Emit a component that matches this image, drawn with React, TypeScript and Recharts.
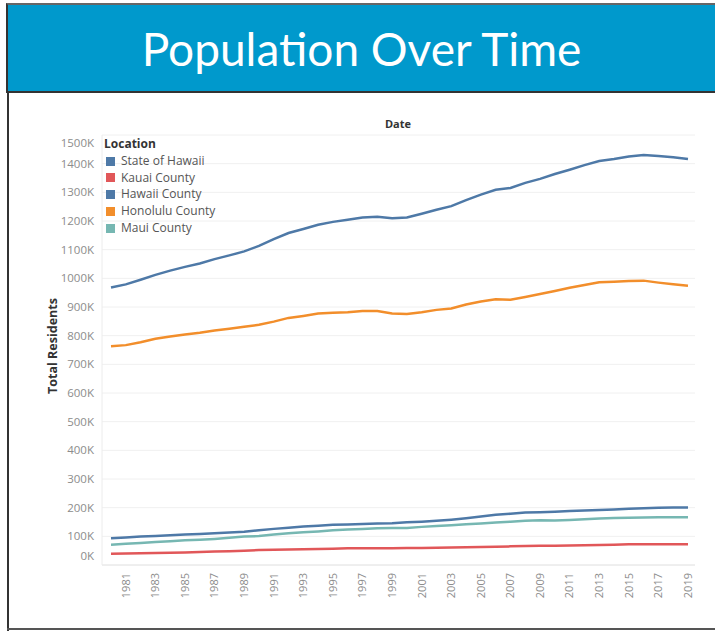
import React from "react";
import { LineChart, Line, XAxis, YAxis, CartesianGrid, Legend } from "recharts";

const years = [
  1980, 1981, 1982, 1983, 1984, 1985, 1986, 1987, 1988, 1989,
  1990, 1991, 1992, 1993, 1994, 1995, 1996, 1997, 1998, 1999,
  2000, 2001, 2002, 2003, 2004, 2005, 2006, 2007, 2008, 2009,
  2010, 2011, 2012, 2013, 2014, 2015, 2016, 2017, 2018, 2019,
];

// thousands of residents
const stateOfHawaii = [
  968, 979, 995, 1012, 1027, 1040, 1052, 1067, 1080, 1094,
  1113, 1137, 1158, 1172, 1187, 1197, 1204, 1212, 1215, 1210,
  1212, 1225, 1239, 1252, 1273, 1292, 1309, 1315, 1333, 1347,
  1364, 1379, 1395, 1409, 1416, 1425, 1430, 1427, 1422, 1416,
];
const kauaiCounty = [
  39, 40, 41, 42, 43, 44, 45, 47, 48, 50,
  52, 53, 54, 55, 56, 57, 58, 58, 58, 58,
  59, 59, 60, 61, 62, 63, 64, 65, 66, 67,
  67, 68, 69, 70, 71, 72, 72, 72, 72, 72,
];
const hawaiiCounty = [
  93, 96, 99, 101, 104, 106, 108, 111, 113, 116,
  121, 126, 130, 134, 137, 140, 141, 143, 145, 146,
  149, 151, 154, 158, 163, 169, 175, 179, 183, 184,
  186, 188, 190, 192, 194, 196, 198, 200, 201, 201,
];
const honoluluCounty = [
  763, 767, 777, 789, 797, 804, 810, 818, 824, 831,
  838, 849, 862, 869, 877, 880, 882, 886, 886, 877,
  876, 882, 890, 895, 909, 919, 927, 925, 935, 945,
  956, 967, 977, 986, 988, 991, 992, 985, 979, 974,
];
const mauiCounty = [
  71, 74, 77, 80, 83, 86, 88, 91, 95, 99,
  101, 106, 111, 114, 117, 121, 124, 126, 128, 129,
  129, 133, 136, 139, 142, 145, 148, 151, 154, 156,
  155, 157, 160, 162, 164, 165, 166, 167, 167, 167,
];

const yearTicks = [
  1981, 1983, 1985, 1987, 1989, 1991, 1993, 1995, 1997, 1999,
  2001, 2003, 2005, 2007, 2009, 2011, 2013, 2015, 2017, 2019,
];
const yTicks = [0, 100, 200, 300, 400, 500, 600, 700, 800, 900, 1000, 1100, 1200, 1300, 1400, 1500];

const series = [
  { key: "state", name: "State of Hawaii", values: stateOfHawaii, color: "#4e79a7" },
  { key: "kauai", name: "Kauai County", values: kauaiCounty, color: "#e15759" },
  { key: "hawaii", name: "Hawaii County", values: hawaiiCounty, color: "#4e79a7" },
  { key: "honolulu", name: "Honolulu County", values: honoluluCounty, color: "#f28e2b" },
  { key: "maui", name: "Maui County", values: mauiCounty, color: "#76b7b2" },
];

const data = years.map((year, i) => {
  const row: Record<string, number> = { year };
  series.forEach((s) => {
    row[s.key] = s.values[i] * 1000;
  });
  return row;
});

const FONT = "'Open Sans', sans-serif";

const XTick = ({ x, y, payload }: any) => (
  <text
    x={x}
    y={y}
    transform={`rotate(-90, ${x}, ${y})`}
    textAnchor="end"
    dy="0.35em"
    fontSize={11}
    fill="#8c8c8c"
    fontFamily={FONT}
  >
    {payload.value}
  </text>
);

const YTick = ({ x, y, payload }: any) => {
  let shift = 0;
  if (payload.value === 0) shift = -9;
  if (payload.value === 1500000) shift = 8;
  return (
    <text
      x={x}
      y={y + shift}
      textAnchor="end"
      dy="0.35em"
      fontSize={11.5}
      fill="#8c8c8c"
      fontFamily={FONT}
    >
      {`${payload.value / 1000}K`}
    </text>
  );
};

// legend keeps the series order instead of the default alphabetical sort
const LegendBox = () => (
  <div style={{ fontFamily: FONT, fontSize: 12, lineHeight: "16.8px" }}>
    <div style={{ fontWeight: 700, color: "#333" }}>Location</div>
    {series.map((s) => (
      <div key={s.key} style={{ display: "flex", alignItems: "center", color: "#555" }}>
        <span
          style={{
            display: "inline-block",
            width: 9,
            height: 9,
            background: s.color,
            marginLeft: 2,
            marginRight: 6,
          }}
        />
        {s.name}
      </div>
    ))}
  </div>
);

export default function App() {
  return (
    <div style={{ position: "absolute", left: 0, top: 0, width: 715, height: 631, background: "#fff" }}>
      <div
        style={{
          position: "absolute",
          left: 6,
          top: 3,
          width: 709,
          height: 90,
          background: "#0099cc",
          borderTop: "2px solid #666",
          borderLeft: "2px solid #333",
          borderBottom: "2px solid #333",
          color: "#fff",
          fontFamily: "Lato, sans-serif",
          fontSize: 46,
          display: "flex",
          alignItems: "center",
          justifyContent: "center",
          boxSizing: "border-box",
        }}
      >
        Population Over Time
      </div>
      <div
        style={{
          position: "absolute",
          left: 7,
          top: 93,
          width: 2,
          height: 538,
          background: "#333",
        }}
      />
      <div
        style={{
          position: "absolute",
          left: 7,
          top: 628,
          width: 708,
          height: 2,
          background: "#555",
        }}
      />
      <div style={{ position: "absolute", left: 0, top: 0 }}>
        <LineChart
          width={715}
          height={631}
          data={data}
          margin={{ top: 135, right: 20, bottom: 26, left: 42 }}
        >
          <CartesianGrid vertical={false} stroke="#f0f0f0" />
          <XAxis
            dataKey="year"
            type="number"
            domain={[1980, 2019]}
            ticks={yearTicks}
            padding={{ left: 9, right: 7 }}
            tick={<XTick />}
            tickLine={false}
            axisLine={{ stroke: "#e6e6e6" }}
            height={40}
            interval={0}
          />
          <YAxis
            type="number"
            domain={[0, 1500000]}
            ticks={yTicks.map((t) => t * 1000)}
            tick={<YTick />}
            tickLine={false}
            axisLine={{ stroke: "#ececec" }}
            width={60}
            interval={0}
          />
          <Legend
            layout="horizontal"
            verticalAlign="middle"
            align="center"
            content={<LegendBox />}
            wrapperStyle={{ position: "absolute", left: 104, top: 136, width: 200, height: 100 }}
          />
          {series.map((s) => (
            <Line
              key={s.key}
              type="linear"
              dataKey={s.key}
              name={s.name}
              stroke={s.color}
              strokeWidth={2.5}
              dot={false}
              isAnimationActive={false}
            />
          ))}
          <text x={398} y={128} textAnchor="middle" fontSize={11} fontWeight={700} fill="#333" fontFamily={FONT}>
            Date
          </text>
          <text
            x={53}
            y={346}
            transform="rotate(-90, 53, 346)"
            textAnchor="middle"
            dy="0.35em"
            fontSize={12.5}
            fontWeight={700}
            fill="#333"
            fontFamily={FONT}
          >
            Total Residents
          </text>
        </LineChart>
      </div>
    </div>
  );
}
